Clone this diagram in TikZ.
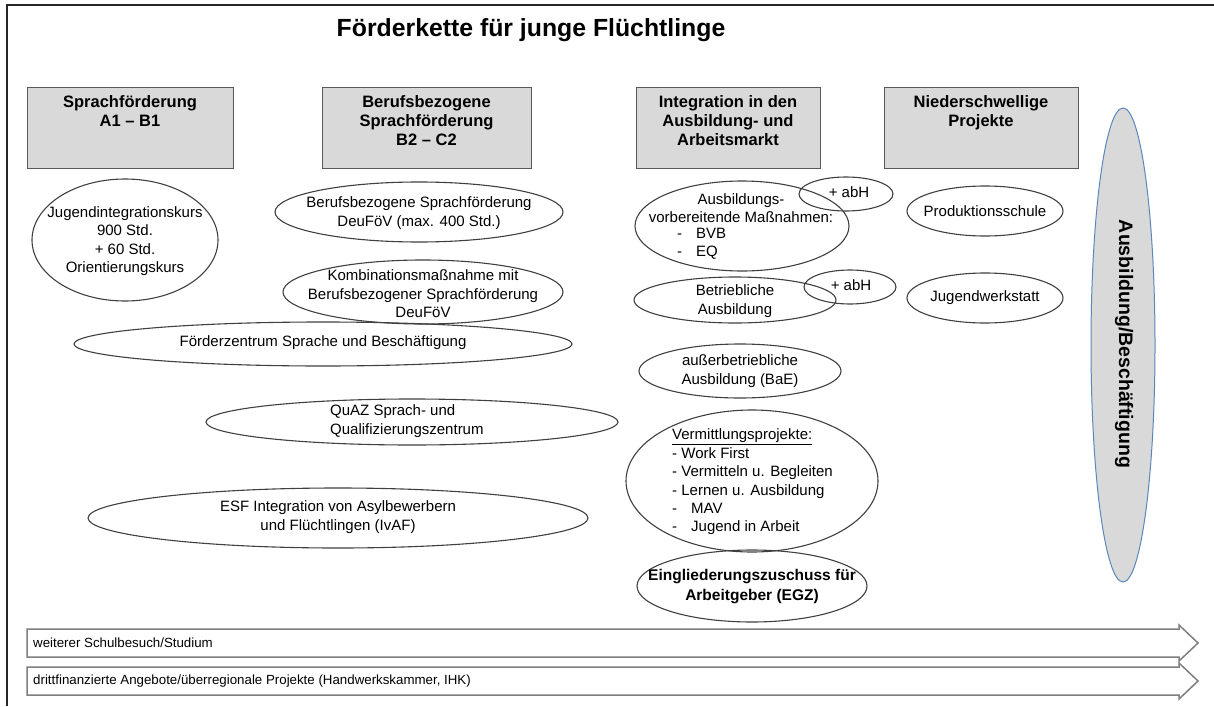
\documentclass[tikz,border=0pt]{standalone}
\usepackage{fontspec}
\setmainfont{Liberation Sans}
\usetikzlibrary{shapes.geometric}
\definecolor{boxfill}{HTML}{D9D9D9}
\definecolor{boxline}{HTML}{595959}
\definecolor{ellline}{HTML}{404040}
\definecolor{bigline}{HTML}{5B87BD}
\definecolor{arrline}{HTML}{7F7F7F}
\definecolor{frameline}{HTML}{262626}
\begin{document}
\begin{tikzpicture}[x=1pt,y=-1pt,
  hbox/.style={draw=boxline, fill=boxfill, line width=1.2pt, inner sep=0pt, anchor=north west},
  htxt/.style={font=\fontsize{16.5}{19}\selectfont\bfseries, align=center, inner sep=0pt, anchor=base},
  ell/.style={draw=ellline, line width=1.1pt, ellipse, inner sep=0pt},
  txt/.style={font=\fontsize{15}{18.4}\selectfont, align=center, inner sep=0pt},
  ltxt/.style={font=\fontsize{15}{18.4}\selectfont, align=left, inner sep=0pt, anchor=west},
  btxt/.style={font=\fontsize{15.5}{20}\selectfont\bfseries, align=center, inner sep=0pt},
  arr/.style={draw=arrline, line width=1.5pt, fill=white},
  atxt/.style={font=\fontsize{13.3}{15}\selectfont, inner sep=0pt, anchor=west}
]
\useasboundingbox (0,0) rectangle (1214,706);
\fill[white] (0,0) rectangle (1214,706);
% frame
\coordinate (fb) at (7,706);
\coordinate (fc) at (7,5);
\coordinate (fr) at (1214,5);
\draw[frameline, line width=2pt] (fb) -- (fc) -- (fr);

% title
\node[font=\fontsize{24.8}{28}\selectfont\bfseries, inner sep=0pt, anchor=base] (title) at (531,37) {Förderkette für junge Flüchtlinge};

% header boxes
\node[hbox, minimum width=206pt, minimum height=81pt] (h1) at (27,87) {};
\node[hbox, minimum width=209pt, minimum height=81pt] (h2) at (322,87) {};
\node[hbox, minimum width=184pt, minimum height=81pt] (h3) at (636,87) {};
\node[hbox, minimum width=194pt, minimum height=81pt] (h4) at (884,87) {};
\node[htxt] (h1t) at (130,127) {Sprachförderung\\A1 – B1};
\node[htxt] (h2t) at (426.5,146) {Berufsbezogene\\Sprachförderung\\B2 – C2};
\node[htxt] (h3t) at (728,146) {Integration in den\\Ausbildung- und\\Arbeitsmarkt};
\node[htxt] (h4t) at (981,127) {Niederschwellige\\Projekte};

% left column ellipses
\node[ell, minimum width=186pt, minimum height=122pt] (e1) at (125,240) {};
\node[txt] (e1t) at (125,241) {Jugendintegrationskurs\\900 Std.\\+ 60 Std.\\Orientierungskurs};

\node[ell, minimum width=288pt, minimum height=60pt] (e2) at (419,212) {};
\node[txt] (e2t) at (419,213) {Berufsbezogene Sprachförderung\\DeuFöV (max. 400 Std.)};

\node[ell, minimum width=280pt, minimum height=64pt] (e3) at (423,292) {};
\node[txt] (e3t) at (423,294) {Kombinationsmaßnahme mit\\Berufsbezogener Sprachförderung\\DeuFöV};

\node[ell, minimum width=498pt, minimum height=44pt] (e4) at (323,344) {};
\node[txt] (e4t) at (323,343) {Förderzentrum Sprache und Beschäftigung};

\node[ell, minimum width=412pt, minimum height=46pt] (e5) at (412,422) {};
\node[ltxt] (e5t) at (330,421) {QuAZ Sprach- und\\Qualifizierungszentrum};

\node[ell, minimum width=500pt, minimum height=60pt] (e6) at (338,518) {};
\node[txt] (e6t) at (338,517) {ESF Integration von Asylbewerbern\\und Flüchtlingen (IvAF)};

% integration column
\node[ell, minimum width=214pt, minimum height=90pt] (e7) at (742,226) {};
\node[txt] (e7t) at (741,208) {Ausbildungs-\\vorbereitende Maßnahmen:};
\node[ltxt] (e7b) at (677,244) {-\hspace{14pt}BVB\\-\hspace{14pt}EQ};

\node[ell, minimum width=94pt, minimum height=34pt] (e8) at (846,194) {};
\node[txt] (e8t) at (849,192) {+ abH};

\node[ell, minimum width=202pt, minimum height=46pt] (e9) at (735,300) {};
\node[txt] (e9t) at (735,301) {Betriebliche\\Ausbildung};

\node[ell, minimum width=92pt, minimum height=34pt] (e10) at (850,287) {};
\node[txt] (e10t) at (851,285) {+ abH};

\node[ell, minimum width=202pt, minimum height=54pt] (e11) at (740,371) {};
\node[txt] (e11t) at (740,371) {außerbetriebliche\\Ausbildung (BaE)};

\node[ell, minimum width=252pt, minimum height=142pt] (e12) at (752,481) {};
\node[ltxt] (e12t) at (672,482) {\underline{Vermittlungsprojekte:}\\- Work First\\- Vermitteln u. Begleiten\\- Lernen u. Ausbildung\\-\hspace{14pt}MAV\\-\hspace{14pt}Jugend in Arbeit};

\node[ell, minimum width=230pt, minimum height=72pt] (e13) at (752,586) {};
\node[btxt] (e13t) at (752,587) {Eingliederungszuschuss für\\Arbeitgeber (EGZ)};

% low-threshold projects
\node[ell, minimum width=156pt, minimum height=50pt] (e14) at (985,211) {};
\node[txt] (e14t) at (985,211) {Produktionsschule};
\node[ell, minimum width=156pt, minimum height=50pt] (e15) at (985,298) {};
\node[txt] (e15t) at (985,298) {Jugendwerkstatt};

% big vertical ellipse
\node[ellipse, draw=bigline, fill=boxfill, line width=1pt, inner sep=0pt, minimum width=64pt, minimum height=474pt] (e16) at (1123,345) {};
\node[font=\fontsize{19.5}{21}\selectfont\bfseries, rotate=-90, inner sep=0pt] (e16t) at (1124,344) {Ausbildung/Beschäftigung};

% bottom arrows
\coordinate (a1s) at (27,629);
\draw[arr] (a1s) -- (1179,629) -- (1179,625) -- (1198,643) -- (1179,661) -- (1179,657) -- (27,657) -- cycle;
\node[atxt] (a1t) at (33,643) {weiterer Schulbesuch/Studium};
\coordinate (a2s) at (27,667);
\draw[arr] (a2s) -- (1179,667) -- (1179,663) -- (1198,681) -- (1179,699) -- (1179,695) -- (27,695) -- cycle;
\node[atxt] (a2t) at (33,681) {drittfinanzierte Angebote/überregionale Projekte (Handwerkskammer, IHK)};
\end{tikzpicture}
\end{document}
